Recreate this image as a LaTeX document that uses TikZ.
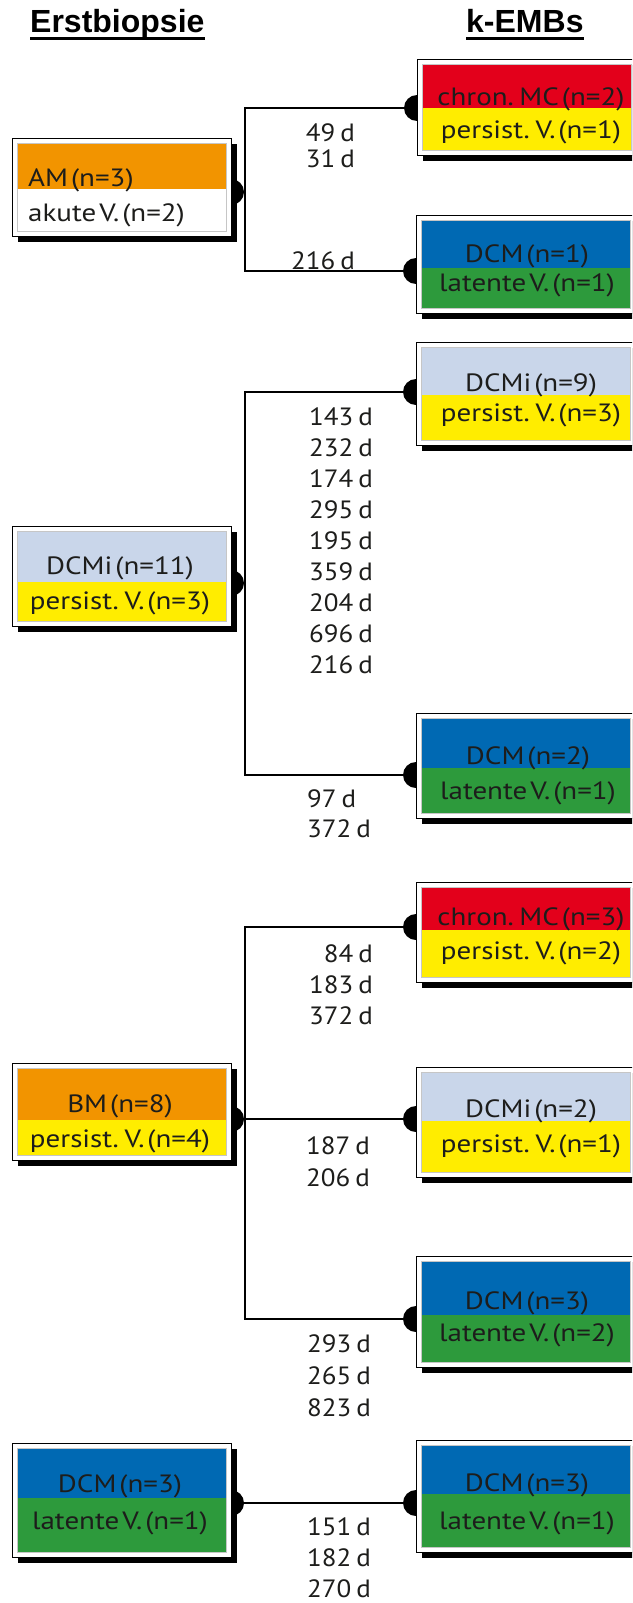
\documentclass[tikz,border=0pt]{standalone}
\usepackage{fontspec}
\setmainfont{PT Sans}
\newfontfamily\headfont{Liberation Sans}
\newfontfamily\boxfam[FakeStretch=1.16]{PT Sans}
\newfontfamily\dayfam[FakeStretch=1.08]{PT Sans}
\usetikzlibrary{backgrounds}

\definecolor{cOrange}{HTML}{F29400}
\definecolor{cRed}{HTML}{E3001B}
\definecolor{cYellow}{HTML}{FFED00}
\definecolor{cLight}{HTML}{C9D6EA}
\definecolor{cBlue}{HTML}{0069B3}
\definecolor{cGreen}{HTML}{2D9A3C}
\definecolor{cInk}{HTML}{1D1D1B}

\pgfdeclarelayer{paper}
\pgfsetlayers{paper,background,main}

% text fonts with the narrow word spaces of the box captions
\newcommand{\boxfont}{\boxfam\fontsize{25}{29}\selectfont\spaceskip 0.12em\relax}
\newcommand{\dayfont}{\dayfam\fontsize{25}{29}\selectfont\spaceskip 0.2em\relax}

\tikzset{
  frame/.style={draw=black, line width=1.2pt, fill=white, inner sep=0pt, anchor=north west},
  boxtxt/.style={inner sep=0pt, text=cInk, font=\boxfont},
  lbl/.style={inner sep=0pt, text=cInk, font=\dayfont},
  head/.style={inner sep=0pt, font=\headfont\bfseries\fontsize{32}{36}\selectfont},
  dot/.style={circle, fill=black, inner sep=0pt, minimum size=26pt},
  conn/.style={line width=2pt}
}

% #1 name, #2 left x, #3 top y, #4 height, #5 y of the colour split, #6 upper colour, #7 lower colour
\newcommand{\embox}[7]{%
  \fill[black] (#2+6,#3+6) rectangle (#2+225,#3+#4+6);
  \node[frame, minimum width=219pt, minimum height=#4pt] (#1) at (#2,#3) {};
  \fill[#6] (#2+5,#3+5) rectangle (#2+214,#5);
  \fill[#7] (#2+5,#5) rectangle (#2+214,#3+#4-5);
  \draw[gray!45, line width=.6pt] (#2+5,#3+5) rectangle (#2+214,#3+#4-5);
}

\begin{document}
\begin{tikzpicture}[x=1pt,y=-1pt]
\clip (0,0) rectangle (632,1603);
\begin{pgfonlayer}{paper}
  \fill[white] (0,0) rectangle (632,1603);
\end{pgfonlayer}

% column headings
\node[head, anchor=base west] (hl) at (30,33) {Erstbiopsie};
\node[head, anchor=base west] (hr) at (466,33) {k-EMBs};
\draw[line width=3pt] ([yshift=-6pt]hl.base west) -- ([yshift=-6pt]hl.base east);
\draw[line width=3pt] ([yshift=-6pt]hr.base west) -- ([yshift=-6pt]hr.base east);

% ---------- boxes ----------
\embox{am}{12}{138}{98}{189}{cOrange}{white}
\embox{dcmi}{12}{526}{100}{582}{cLight}{cYellow}
\embox{bm}{12}{1063}{97}{1120}{cOrange}{cYellow}
\embox{dcml}{12}{1443}{114}{1498}{cBlue}{cGreen}

\embox{ra}{417}{59}{96}{108}{cRed}{cYellow}
\embox{rb}{416}{215}{98}{268}{cBlue}{cGreen}
\embox{rc}{416}{342}{103}{395}{cLight}{cYellow}
\embox{rd}{416}{713}{105}{768}{cBlue}{cGreen}
\embox{re}{416}{882}{100}{930}{cRed}{cYellow}
\embox{rf}{416}{1067}{110}{1121}{cLight}{cYellow}
\embox{rg}{416}{1256}{111}{1315}{cBlue}{cGreen}
\embox{rh}{416}{1440}{112}{1494}{cBlue}{cGreen}

% ---------- box texts ----------
\node[boxtxt, anchor=base west] (am-1) at (28,186) {AM (n=3)};
\node[boxtxt, anchor=base west] (am-2) at (28,221) {akute V. (n=2)};
\node[boxtxt, anchor=base] (dcmi-1) at (120,574) {DCMi (n=11)};
\node[boxtxt, anchor=base] (dcmi-2) at (120,609) {persist. V. (n=3)};
\node[boxtxt, anchor=base] (bm-1) at (120,1112) {BM (n=8)};
\node[boxtxt, anchor=base] (bm-2) at (120,1147) {persist. V. (n=4)};
\node[boxtxt, anchor=base] (dcml-1) at (120,1492) {DCM (n=3)};
\node[boxtxt, anchor=base] (dcml-2) at (120,1529) {latente V. (n=1)};

\node[boxtxt, anchor=base] (ra-1) at (531,105) {chron. MC (n=2)};
\node[boxtxt, anchor=base] (ra-2) at (531,138) {persist. V. (n=1)};
\node[boxtxt, anchor=base] (rb-1) at (527,262) {DCM (n=1)};
\node[boxtxt, anchor=base] (rb-2) at (527,291) {latente V. (n=1)};
\node[boxtxt, anchor=base] (rc-1) at (531,391) {DCMi (n=9)};
\node[boxtxt, anchor=base] (rc-2) at (531,421) {persist. V. (n=3)};
\node[boxtxt, anchor=base] (rd-1) at (528,764) {DCM (n=2)};
\node[boxtxt, anchor=base] (rd-2) at (528,799) {latente V. (n=1)};
\node[boxtxt, anchor=base] (re-1) at (531,925) {chron. MC (n=3)};
\node[boxtxt, anchor=base] (re-2) at (531,959) {persist. V. (n=2)};
\node[boxtxt, anchor=base] (rf-1) at (531,1117) {DCMi (n=2)};
\node[boxtxt, anchor=base] (rf-2) at (531,1152) {persist. V. (n=1)};
\node[boxtxt, anchor=base] (rg-1) at (527,1309) {DCM (n=3)};
\node[boxtxt, anchor=base] (rg-2) at (527,1341) {latente V. (n=2)};
\node[boxtxt, anchor=base] (rh-1) at (527,1491) {DCM (n=3)};
\node[boxtxt, anchor=base] (rh-2) at (527,1529) {latente V. (n=1)};

% ---------- day labels ----------
\foreach \t [count=\i] in {49,31}
  \node[lbl, anchor=base east] (d1-\i) at (355,141+26*\i-26) {\t{} d};
\node[lbl, anchor=base east] (d1-3) at (355,269) {216 d};
\foreach \t [count=\i] in {143,232,174,295,195,359,204,696,216}
  \node[lbl, anchor=base east] (d2-\i) at (373,425+31*\i-31) {\t{} d};
\foreach \t [count=\i] in {97,372}
  \node[lbl, anchor=base west] (d3-\i) at (307,807+30*\i-30) {\t{} d};
\foreach \t [count=\i] in {84,183,372}
  \node[lbl, anchor=base east] (d4-\i) at (373,962+31*\i-31) {\t{} d};
\foreach \t [count=\i] in {187,206}
  \node[lbl, anchor=base east] (d5-\i) at (370,1154+32*\i-32) {\t{} d};
\foreach \t [count=\i] in {293,265,823}
  \node[lbl, anchor=base west] (d6-\i) at (307,1352+32*\i-32) {\t{} d};
\foreach \t [count=\i] in {151,182,270}
  \node[lbl, anchor=base west] (d7-\i) at (307,1535+31*\i-31) {\t{} d};

% ---------- connectors and attachment dots ----------
\begin{scope}[on background layer]
  \node[dot] (am-d) at (231,192) {};
  \node[dot] (dcmi-d) at (231,583) {};
  \node[dot] (bm-d) at (231,1119) {};
  \node[dot] (dcml-d) at (231,1503) {};
  \node[dot] (ra-d) at (417,108) {};
  \node[dot] (rb-d) at (416,271) {};
  \node[dot] (rc-d) at (416,392) {};
  \node[dot] (rd-d) at (416,775) {};
  \node[dot] (re-d) at (416,927) {};
  \node[dot] (rf-d) at (416,1119) {};
  \node[dot] (rg-d) at (416,1319) {};
  \node[dot] (rh-d) at (416,1503) {};
  \coordinate (spine) at (245,0);
  \draw[conn] (ra-d.center) -| (spine |- rb-d.center) -- (rb-d.center);
  \draw[conn] (rc-d.center) -| (spine |- rd-d.center) -- (rd-d.center);
  \draw[conn] (re-d.center) -| (spine |- rg-d.center) -- (rg-d.center);
  \draw[conn] (bm-d.center) -- (rf-d.center);
  \draw[conn] (dcml-d.center) -- (rh-d.center);
\end{scope}
\end{tikzpicture}
\end{document}
